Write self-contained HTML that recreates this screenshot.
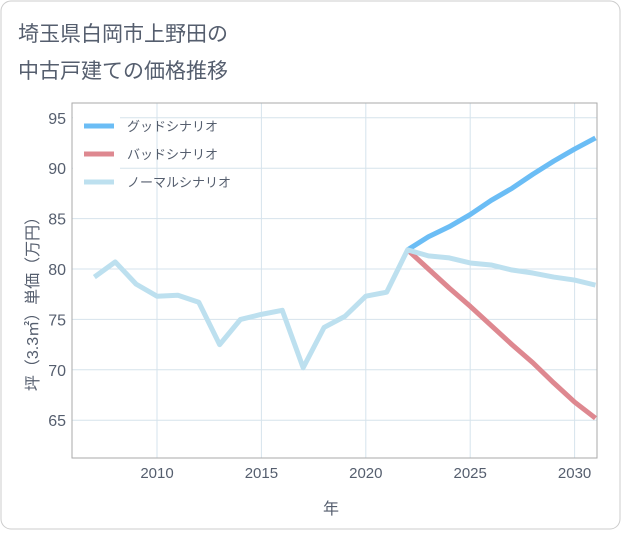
<!DOCTYPE html>
<html><head><meta charset="utf-8"><style>
body{margin:0;background:#fff;font-family:"Liberation Sans","Noto Sans CJK JP",sans-serif;}
</style></head><body>
<svg width="621" height="530" xmlns="http://www.w3.org/2000/svg" font-family="Liberation Sans, Noto Sans CJK JP, sans-serif">
<rect x="1" y="1" width="619" height="528" rx="10" fill="#fff" stroke="#ccc"/>
<text x="18" y="41" font-size="21" fill="#555e6e">埼玉県白岡市上野田の</text>
<text x="18" y="78" font-size="21" fill="#555e6e">中古戸建ての価格推移</text>
<g id="grid"></g>
<rect x="72" y="103" width="525" height="355" fill="none" stroke="#aaa"/>
<g id="axes"></g>
<g id="series"></g>
<rect x="73" y="108" width="47" height="88" fill="#fff"/>
<g>
<line x1="84" y1="126" x2="114" y2="126" stroke="#6bbdf5" stroke-width="5"/>
<text x="127" y="131" font-size="13" fill="#555e6e">グッドシナリオ</text>
<line x1="84" y1="154" x2="114" y2="154" stroke="#de8890" stroke-width="5"/>
<text x="127" y="159" font-size="13" fill="#555e6e">バッドシナリオ</text>
<line x1="84" y1="182" x2="114" y2="182" stroke="#bde0ef" stroke-width="5"/>
<text x="127" y="187" font-size="13" fill="#555e6e">ノーマルシナリオ</text>
</g>
<text x="331" y="514" font-size="16" fill="#555e6e" text-anchor="middle">年</text>
<text transform="translate(38,300) rotate(-90)" font-size="16" fill="#555e6e" text-anchor="middle">坪（3.3㎡）単価（万円）</text>
</svg>
<script>
const years=[2007,2008,2009,2010,2011,2012,2013,2014,2015,2016,2017,2018,2019,2020,2021,2022,2023,2024,2025,2026,2027,2028,2029,2030,2031];
const normal=[79.2,80.7,78.5,77.3,77.4,76.7,72.5,75.0,75.5,75.9,70.2,74.2,75.3,77.3,77.7,81.9,81.3,81.1,80.6,80.4,79.9,79.6,79.2,78.9,78.4];
const futureYears=[2022,2023,2024,2025,2026,2027,2028,2029,2030,2031];
const good=[81.9,83.2,84.2,85.4,86.8,88.0,89.4,90.7,91.9,93.0];
const bad=[81.9,80.0,78.1,76.3,74.4,72.5,70.7,68.7,66.8,65.2];
const xTicks=[2010,2015,2020,2025,2030];
const yTicks=[65,70,75,80,85,90,95];
const NS="http://www.w3.org/2000/svg";
const X=y=>157+(y-2010)*20.88;
const Y=v=>269-(v-80)*10.08;
const grid=document.getElementById('grid'),axes=document.getElementById('axes'),ser=document.getElementById('series');
function mk(t,a,p){const e=document.createElementNS(NS,t);for(const k in a)e.setAttribute(k,a[k]);p.appendChild(e);return e;}
xTicks.forEach(t=>{
 const l=mk('line',{x1:X(t),x2:X(t),y1:103,y2:458,stroke:'#d6e3ec'},grid);
 
 
 const tx=mk('text',{x:X(t),y:478,'font-size':15,fill:'#555e6e','text-anchor':'middle'},axes);tx.textContent=t;
 
 
});
yTicks.forEach(t=>{
 const l=mk('line',{x1:72,x2:597,y1:Y(t),y2:Y(t),stroke:'#d6e3ec'},grid);
 
 
 const tx=mk('text',{x:66,y:Y(t)+6,'font-size':16,fill:'#555e6e','text-anchor':'end'},axes);tx.textContent=t;
 
 
});
function line(xs,vs,c,n){
 const p=mk('polyline',{points:xs.map((x,i)=>X(x)+','+Y(vs[i])).join(' '),fill:'none',stroke:c,'stroke-width':5,'stroke-linejoin':'round'},ser);
 
 
}
line(futureYears,good,'#6bbdf5','good-scenario-line');
line(futureYears,bad,'#de8890','bad-scenario-line');
line(years,normal,'#bde0ef','normal-scenario-line');
</script>
</body></html>
